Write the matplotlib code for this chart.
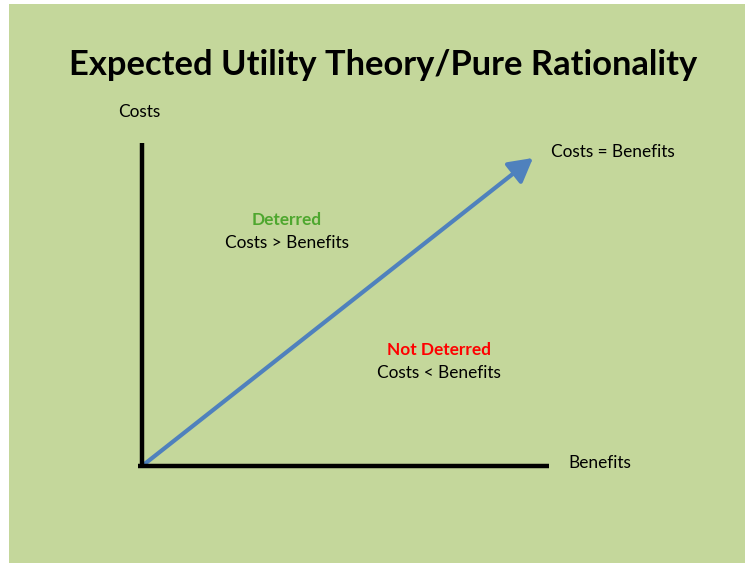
import matplotlib.pyplot as plt
from matplotlib.patches import Rectangle, FancyArrowPatch

# chart content
title = "Expected Utility Theory/Pure Rationality"
y_axis_label = "Costs"
x_axis_label = "Benefits"
line_label = "Costs = Benefits"
regions = ["Deterred", "Not Deterred"]
region_notes = ["Costs > Benefits", "Costs < Benefits"]
region_colors = ["#4ea72e", "#ff0000"]

# diagram geometry in pixel space (origin top-left)
origin = (142, 466)
x_end = 549
y_end = 143
arrow_tip = (533, 158)
region_pos = [(287, 220), (439, 350)]

W, H = 745, 563
fig = plt.figure(figsize=(W / 100, H / 100), dpi=100)
ax = fig.add_axes([0, 0, 1, 1])
ax.set_xlim(0, W)
ax.set_ylim(H, 0)
ax.axis("off")

ax.add_patch(Rectangle((9, 4), W - 9, H - 4, facecolor="#c4d79b", edgecolor="none"))

font = "Lato"
fs = 12.4

ax.text(383, 65, title, ha="center", va="center", fontsize=24.8, fontweight="bold",
        family=font, color="black")

# axes of the diagram
ax.plot([origin[0], origin[0]], [origin[1] + 2, y_end], color="black", lw=3.2,
        solid_capstyle="butt")
ax.plot([origin[0] - 4, x_end], [origin[1], origin[1]], color="black", lw=3.2,
        solid_capstyle="butt")

ax.add_patch(FancyArrowPatch(origin, arrow_tip, arrowstyle="-|>,head_length=9,head_width=5",
                             mutation_scale=1.6, color="#4f81bd", lw=3.0,
                             shrinkA=0, shrinkB=0))

ax.text(139, 112, y_axis_label, ha="center", va="center", fontsize=fs, family=font)
ax.text(568, 463, x_axis_label, ha="left", va="center", fontsize=fs, family=font)
ax.text(551, 152, line_label, ha="left", va="center", fontsize=fs, family=font)

for (x, y), name, note, c in zip(region_pos, regions, region_notes, region_colors):
    ax.text(x, y, name, ha="center", va="center", fontsize=fs, fontweight="bold",
            family=font, color=c)
    ax.text(x, y + 23, note, ha="center", va="center", fontsize=fs, family=font)

fig.savefig("out.png", dpi=100, facecolor="white")
